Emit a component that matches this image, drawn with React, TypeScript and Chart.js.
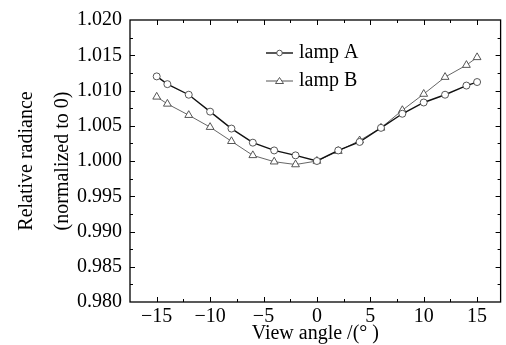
import React, { useEffect, useRef } from "react";
import { Chart, registerables } from "chart.js";

Chart.register(...registerables);

const angles = [-15, -14, -12, -10, -8, -6, -4, -2, 0, 2, 4, 6, 8, 10, 12, 14, 15];
const lampA = [1.012, 1.0109, 1.0094, 1.007, 1.0046, 1.0026, 1.0015, 1.0008, 1.0, 1.0015, 1.0027, 1.0047, 1.0067, 1.0083, 1.0094, 1.0107, 1.0112];
const lampB = [1.0091, 1.0081, 1.0065, 1.0048, 1.0028, 1.0008, 0.9999, 0.9995, 1.0, 1.0014, 1.0029, 1.0047, 1.0072, 1.0095, 1.0119, 1.0136, 1.0147];
const xTicks = [-15, -10, -5, 0, 5, 10, 15];
const yTicks = [0.98, 0.985, 0.99, 0.995, 1.0, 1.005, 1.01, 1.015, 1.02];
const seriesNames = ["lamp A", "lamp B"];
const xTitle = "View angle /(° )";
const yTitle = ["Relative radiance", "(normalized to 0)"];

const FONT = "'Liberation Serif', 'Times New Roman', serif";
const FS = 20;

const framePlugin = {
  id: "frame",
  afterDraw(chart: any) {
    const { ctx, chartArea } = chart;
    const { left, right, top, bottom } = chartArea;
    const xs = chart.scales.x;
    const ys = chart.scales.y;
    ctx.save();
    ctx.strokeStyle = "#000";
    ctx.lineWidth = 1.3;
    ctx.strokeRect(left, top, right - left, bottom - top);
    ctx.lineWidth = 1;
    ctx.beginPath();
    for (let v = -17.5; v <= 17.3; v += 2.5) {
      const px = Math.round(xs.getPixelForValue(v)) + 0.5;
      if (px <= left + 1 || px >= right - 1) continue;
      const len = Math.abs(v % 5) < 1e-6 ? 5 : 3;
      ctx.moveTo(px, bottom);
      ctx.lineTo(px, bottom - len);
      ctx.moveTo(px, top);
      ctx.lineTo(px, top + len);
    }
    for (let i = 0; i <= 16; i++) {
      const v = 0.98 + i * 0.0025;
      const py = Math.round(ys.getPixelForValue(v)) + 0.5;
      if (py <= top + 1 || py >= bottom - 1) continue;
      const len = i % 2 === 0 ? 5 : 3;
      ctx.moveTo(left, py);
      ctx.lineTo(left + len, py);
      ctx.moveTo(right, py);
      ctx.lineTo(right - len, py);
    }
    ctx.stroke();

    // legend
    const items = [
      { y: 53, color: "#111", width: 1.4, style: "circle" },
      { y: 81, color: "#555", width: 1, style: "triangle" },
    ];
    items.forEach((it, i) => {
      ctx.strokeStyle = it.color;
      ctx.lineWidth = it.width;
      ctx.beginPath();
      ctx.moveTo(266, it.y);
      ctx.lineTo(293, it.y);
      ctx.stroke();
      ctx.fillStyle = "#fff";
      ctx.lineWidth = 0.9;
      ctx.strokeStyle = "#444";
      ctx.beginPath();
      if (it.style === "circle") {
        ctx.arc(279.5, it.y, 2.8, 0, Math.PI * 2);
      } else {
        ctx.moveTo(279.5, it.y - 3.5);
        ctx.lineTo(283.5, it.y + 2.5);
        ctx.lineTo(275.5, it.y + 2.5);
        ctx.closePath();
      }
      ctx.fill();
      ctx.stroke();
      ctx.fillStyle = "#000";
      ctx.font = `${FS}px ${FONT}`;
      ctx.textBaseline = "middle";
      ctx.textAlign = "left";
      ctx.fillText(seriesNames[i], 299, it.y);
    });
    ctx.restore();
  },
};

const fmtX = (v: number) => (v < 0 ? "\u2212" + Math.abs(v) : String(v));

export default function App() {
  const ref = useRef<HTMLCanvasElement>(null);
  useEffect(() => {
    if (!ref.current) return;
    const chart = new Chart(ref.current, {
      type: "line",
      data: {
        datasets: [
          {
            label: seriesNames[0],
            data: angles.map((a, i) => ({ x: a, y: lampA[i] })),
            borderColor: "#111",
            borderWidth: 1.4,
            pointStyle: "circle",
            pointRadius: 3.5,
            pointBorderWidth: 0.9,
            pointBorderColor: "#444",
            pointBackgroundColor: "#fff",
            tension: 0,
          },
          {
            label: seriesNames[1],
            data: angles.map((a, i) => ({ x: a, y: lampB[i] })),
            borderColor: "#555",
            borderWidth: 0.9,
            pointStyle: "triangle",
            pointRadius: 4.5,
            pointBorderWidth: 0.9,
            pointBorderColor: "#444",
            pointBackgroundColor: "#fff",
            tension: 0,
          },
        ],
      },
      options: {
        responsive: false,
        animation: false,
        layout: { padding: { top: 18, right: 3, left: 0, bottom: 0 } },
        plugins: { legend: { display: false }, tooltip: { enabled: false } },
        scales: {
          x: {
            type: "linear",
            min: -17.5,
            max: 17.2,
            afterBuildTicks: (s: any) => {
              s.ticks = xTicks.map((v) => ({ value: v }));
            },
            afterFit: (s: any) => {
              s.height = 43;
            },
            grid: { display: false, drawTicks: false },
            border: { display: false },
            ticks: {
              callback: (v: any) => fmtX(Number(v)),
              font: { family: FONT, size: FS },
              color: "#000",
              padding: 3,
              maxRotation: 0,
              autoSkip: false,
            },
            title: {
              display: true,
              text: xTitle,
              color: "#000",
              font: { family: FONT, size: FS, lineHeight: 1.05 },
              padding: { top: 0, bottom: 1 },
            },
          },
          y: {
            min: 0.98,
            max: 1.02,
            afterBuildTicks: (s: any) => {
              s.ticks = yTicks.map((v) => ({ value: v }));
            },
            afterFit: (s: any) => {
              s.width = 130;
            },
            grid: { display: false, drawTicks: false },
            border: { display: false },
            ticks: {
              callback: (v: any) => Number(v).toFixed(3),
              font: { family: FONT, size: FS },
              color: "#000",
              padding: 8,
              autoSkip: false,
            },
            title: {
              display: true,
              text: yTitle,
              color: "#000",
              font: { family: FONT, size: FS, lineHeight: 1.8 },
              padding: { top: 9, bottom: 0 },
            },
          },
        },
      },
      plugins: [framePlugin],
    });
    return () => chart.destroy();
  }, []);
  return (
    <div style={{ position: "absolute", left: 0, top: 0, width: 506, height: 345, background: "#fff" }}>
      <canvas ref={ref} width={506} height={345} style={{ display: "block" }} />
    </div>
  );
}
